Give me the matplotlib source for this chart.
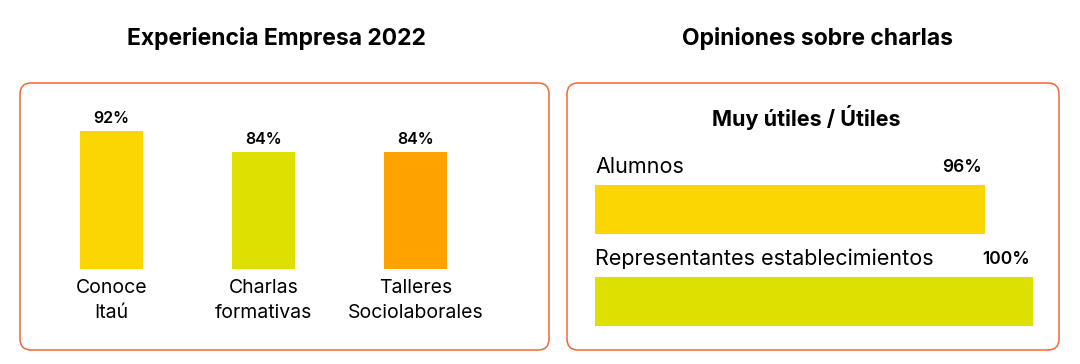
import matplotlib.pyplot as plt
from matplotlib.patches import FancyBboxPatch

plt.rcParams['font.family'] = ['Inter', 'DejaVu Sans']

# datos
categorias = ['Conoce\nItaú', 'Charlas\nformativas', 'Talleres\nSociolaborales']
experiencia = [92, 84, 84]
colores_exp = ['#FCD600', '#DDE000', '#FCA300']

grupos = ['Alumnos', 'Representantes establecimientos']
opiniones = [96, 100]
colores_op = ['#FCD600', '#DDE000']

W, H = 1080, 364
fig = plt.figure(figsize=(W / 100, H / 100), dpi=100)

# fondo en pixeles para cajas y titulos
bg = fig.add_axes([0, 0, 1, 1], zorder=0)
bg.set_xlim(0, W)
bg.set_ylim(H, 0)
bg.axis('off')

borde = '#F0673A'
for x0, x1 in [(20, 549), (567, 1059)]:
    bg.add_patch(FancyBboxPatch((x0, 83), x1 - x0, 267,
                                boxstyle='round,pad=0,rounding_size=11',
                                fc='white', ec=borde, lw=1.1))

bg.text(276, 38, 'Experiencia Empresa 2022', ha='center', va='center',
        fontsize=16.5, fontweight='bold')
bg.text(818, 38, 'Opiniones sobre charlas', ha='center', va='center',
        fontsize=16.5, fontweight='bold')
bg.text(806, 117, 'Muy útiles / Útiles', ha='center', va='center',
        fontsize=15.5, fontweight='bold')


def box(x0, y0, x1, y1):
    return [x0 / W, 1 - y1 / H, (x1 - x0) / W, (y1 - y0) / H]


# barras verticales
ax1 = fig.add_axes(box(35.5, 110, 491.5, 269), zorder=1)
ax1.patch.set_alpha(0)
ax1.bar(range(len(experiencia)), experiencia, width=0.42, color=colores_exp)
ax1.set_xlim(-0.5, 2.5)
ax1.set_ylim(40, 100)
ax1.set_xticks(range(len(categorias)))
ax1.set_xticklabels(categorias, fontsize=14, linespacing=1.47)
ax1.tick_params(axis='x', length=0, pad=7.5)
ax1.set_yticks([])
for s in ax1.spines.values():
    s.set_visible(False)
for i, v in enumerate(experiencia):
    ax1.annotate(f'{v}%', (i, v), xytext=(0, 4), textcoords='offset points',
                 ha='center', va='bottom', fontsize=11.5, fontweight='semibold')

# barras horizontales
ax2 = fig.add_axes(box(595, 163.5, 1033, 347.5), zorder=1)
ax2.patch.set_alpha(0)
ax2.barh(range(len(opiniones)), opiniones, height=0.54, color=colores_op)
ax2.set_xlim(63.5, 100)
ax2.set_ylim(1.5, -0.5)
ax2.axis('off')
for i, (g, v) in enumerate(zip(grupos, opiniones)):
    ax2.text(63.5, i - 0.46, g, ha='left', va='center', fontsize=15.5)
    ax2.annotate(f'{v}%', (v, i - 0.46), xytext=(-2, 0), textcoords='offset points',
                 ha='right', va='center', fontsize=12.5, fontweight='semibold')

fig.savefig('out.png', dpi=100)
